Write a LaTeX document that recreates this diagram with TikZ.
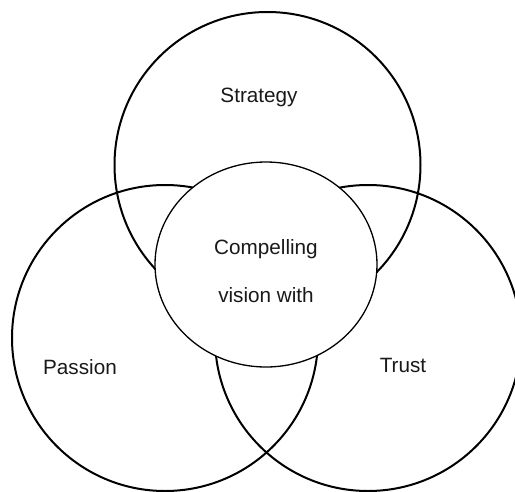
\documentclass[tikz,border=0pt]{standalone}
\usepackage{fontspec}
\setmainfont{Liberation Sans}
\usetikzlibrary{shapes.geometric}

\begin{document}
\begin{tikzpicture}[x=1pt, y=-1pt]
\tikzset{ring/.style={circle, draw, line width=2pt, inner sep=0pt, minimum size=306pt}}
\tikzset{vision/.style={ellipse, draw, fill=white, line width=1.3pt, inner sep=0pt, minimum width=222pt, minimum height=205pt}}
\tikzset{word/.style={font=\fontsize{20.7}{24}\selectfont, text=black!90, inner sep=0pt}}
\useasboundingbox (0,0) rectangle (515,491);

\node[ring] (strategy) at (267.5, 165) {};
\node[ring] (passion) at (165, 338) {};
\node[ring] (trust) at (368, 338) {};
\node[vision] (core) at (266, 264.5) {};

\node[word] (tstrategy) at (259, 97) {Strategy};
\node[word] (tpassion) at (80, 367) {Passion};
\node[word] (ttrust) at (403, 365) {Trust};
\node[word] (tcore1) at (266, 249) {Compelling};
\node[word] (tcore2) at (266, 295) {vision with};
\end{tikzpicture}
\end{document}
